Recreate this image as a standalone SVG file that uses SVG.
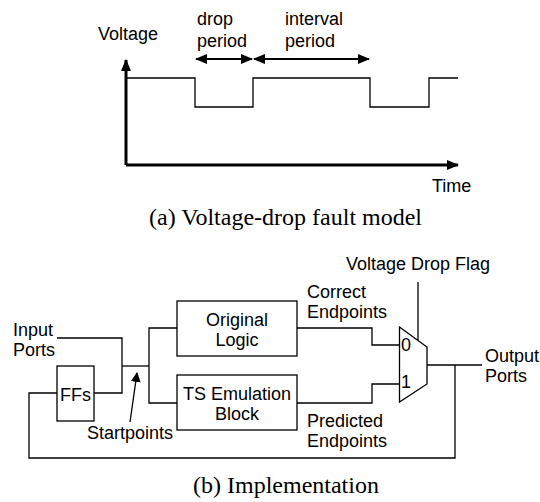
<svg xmlns="http://www.w3.org/2000/svg" width="540" height="502" viewBox="0 0 540 502">
<style>
.t{font-family:"Liberation Sans",Arial,sans-serif;font-size:18px;fill:#000}
.c{font-family:"Liberation Serif","Times New Roman",serif;font-size:24px;fill:#000}
.w{fill:none;stroke:#000;stroke-width:1.3}
.box{fill:#fff;stroke:#000;stroke-width:1.3}
.ax{fill:none;stroke:#000;stroke-width:3}
.ar{fill:none;stroke:#000;stroke-width:2.2}
</style>
<defs>
<marker id="ah" markerUnits="userSpaceOnUse" markerWidth="12" markerHeight="10" refX="11" refY="5" orient="auto-start-reverse" viewBox="0 0 12 10">
<path d="M0,0 L12,5 L0,10 Z" fill="#000"/>
</marker>
<marker id="ahs" markerUnits="userSpaceOnUse" markerWidth="10" markerHeight="10" refX="9" refY="5" orient="auto" viewBox="0 0 10 10">
<path d="M0,0 L10,5 L0,10 Z" fill="#000"/>
</marker>
</defs>
<rect width="540" height="502" fill="#fff"/>

<!-- (a) voltage-drop fault model -->
<g id="plot">
<path class="ax" d="M126,165 V60" marker-end="url(#ah)"/>
<path class="ax" d="M126,165 H458" marker-end="url(#ah)"/>
<path class="w" d="M126,78 H195 V107 H253 V78 H370 V107 H429 V78 H458"/>
<path class="ar" d="M196,59 H252" marker-start="url(#ah)" marker-end="url(#ah)"/>
<path class="ar" d="M254,59 H369" marker-start="url(#ah)" marker-end="url(#ah)"/>
<text class="t" x="98" y="40">Voltage</text>
<text class="t" x="197" y="25">drop</text>
<text class="t" x="197" y="47">period</text>
<text class="t" x="285" y="25">interval</text>
<text class="t" x="285" y="47">period</text>
<text class="t" x="432" y="192">Time</text>
</g>
<text class="c" x="149" y="225">(a) Voltage-drop fault model</text>

<!-- (b) implementation -->
<g id="connectors">
<path class="w" d="M57,338 H122 V393 H94"/>
<path class="w" d="M122,366 H149"/>
<path class="w" d="M177,328 H149 V403 H177"/>
<path class="w" d="M297,328 H372 V345 H399"/>
<path class="w" d="M297,403 H372 V384 H399"/>
<path class="w" d="M418,282 V340"/>
<path class="w" d="M427,365 H482"/>
<path class="w" d="M455,365 V458 H29 V393 H57"/>
<path class="w" d="M130,422 L137,373" marker-end="url(#ahs)"/>
</g>
<g id="ffs">
<rect class="box" x="57" y="366" width="37" height="55"/>
<text class="t" x="75.5" y="401" text-anchor="middle">FFs</text>
</g>
<g id="original-logic">
<rect class="box" x="177" y="301" width="120" height="55"/>
<text class="t" x="237" y="326" text-anchor="middle">Original</text>
<text class="t" x="237" y="346" text-anchor="middle">Logic</text>
</g>
<g id="ts-block">
<rect class="box" x="177" y="375" width="120" height="55"/>
<text class="t" x="237" y="400" text-anchor="middle">TS Emulation</text>
<text class="t" x="237" y="420" text-anchor="middle">Block</text>
</g>
<g id="mux">
<path class="box" d="M399.5,327 L427,347 V384 L399.5,402 Z"/>
<text class="t" x="401" y="351">0</text>
<text class="t" x="401" y="388">1</text>
</g>
<g id="labels">
<text class="t" x="13" y="336">Input</text>
<text class="t" x="13" y="356">Ports</text>
<text class="t" x="87" y="439">Startpoints</text>
<text class="t" x="346" y="270">Voltage Drop Flag</text>
<text class="t" x="307" y="298">Correct</text>
<text class="t" x="307" y="318">Endpoints</text>
<text class="t" x="307" y="427">Predicted</text>
<text class="t" x="307" y="447">Endpoints</text>
<text class="t" x="485" y="362">Output</text>
<text class="t" x="485" y="382">Ports</text>
</g>
<text class="c" x="193" y="493">(b) Implementation</text>
</svg>
